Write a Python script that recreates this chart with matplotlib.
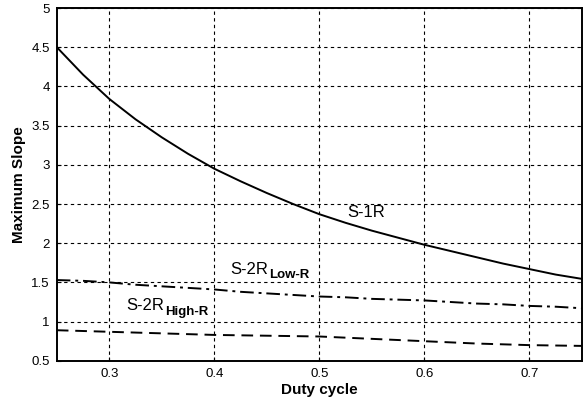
import matplotlib.pyplot as plt
from matplotlib.ticker import FormatStrFormatter

plt.rcParams['font.family'] = ['Liberation Sans', 'DejaVu Sans']

# Duty cycle samples and max slope per topology
duty = [0.25, 0.275, 0.30, 0.325, 0.35, 0.375, 0.40, 0.425, 0.45, 0.475, 0.50,
        0.525, 0.55, 0.575, 0.60, 0.625, 0.65, 0.675, 0.70, 0.725, 0.75]
s1r = [4.50, 4.15, 3.84, 3.58, 3.35, 3.14, 2.95, 2.79, 2.64, 2.50, 2.37,
       2.26, 2.16, 2.07, 1.98, 1.90, 1.82, 1.74, 1.67, 1.60, 1.545]
s2r_low = [1.53, 1.52, 1.50, 1.47, 1.45, 1.43, 1.41, 1.38, 1.36, 1.34, 1.32,
           1.31, 1.29, 1.28, 1.27, 1.25, 1.23, 1.22, 1.20, 1.19, 1.17]
s2r_high = [0.89, 0.88, 0.87, 0.86, 0.85, 0.84, 0.83, 0.825, 0.82, 0.815, 0.81,
            0.795, 0.78, 0.765, 0.75, 0.735, 0.72, 0.71, 0.70, 0.695, 0.69]

xticks = [0.3, 0.4, 0.5, 0.6, 0.7]
yticks = [0.5, 1, 1.5, 2, 2.5, 3, 3.5, 4, 4.5, 5]

fig = plt.figure(figsize=(5.88, 4.0), dpi=100)
ax = fig.add_axes([0.0966, 0.098, 0.893, 0.882])

ax.plot(duty, s1r, '-', color='black', lw=1.4)
ax.plot(duty, s2r_low, color='black', lw=1.4, dashes=(7, 2.5, 1.5, 2.5))
ax.plot(duty, s2r_high, color='black', lw=1.4, dashes=(6, 3.5))

ax.set_xlim(0.25, 0.75)
ax.set_ylim(0.5, 5)
ax.set_xticks(xticks)
ax.set_yticks(yticks)
ax.yaxis.set_major_formatter(FormatStrFormatter('%g'))
ax.xaxis.set_major_formatter(FormatStrFormatter('%g'))
ax.tick_params(direction='in', length=3, labelsize=9.5, pad=5)
ax.grid(True, color='black', ls=(0, (3, 3)), lw=0.8)
for sp in ax.spines.values():
    sp.set_linewidth(1.4)

ax.set_xlabel('Duty cycle', fontsize=11, fontweight='bold', labelpad=2)
ax.set_ylabel('Maximum Slope', fontsize=11, fontweight='bold', labelpad=4)

ax.text(0.545, 2.39, 'S-1R', fontsize=12, ha='center', va='center')


def label_with_sub(x, y, main, sub):
    t = ax.text(x, y, main, fontsize=12, ha='left', va='center')
    ax.annotate(sub, xy=(1, 0), xycoords=t, xytext=(0.5, -3),
                textcoords='offset points', fontsize=9.5, fontweight='bold',
                ha='left', va='bottom')


label_with_sub(0.415, 1.67, 'S-2R', 'Low-R')
label_with_sub(0.316, 1.20, 'S-2R', 'High-R')

fig.savefig('out.png', dpi=100)
